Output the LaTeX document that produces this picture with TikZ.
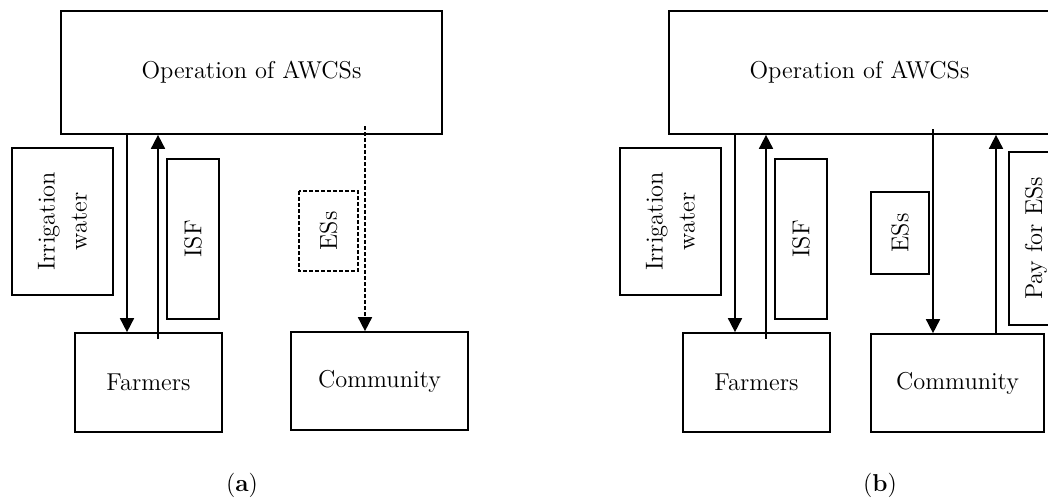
\documentclass[tikz,border=0pt]{standalone}
\usetikzlibrary{positioning}
\usetikzlibrary{arrows.meta}
\begin{document}
\begin{tikzpicture}[x=0.5pt, y=-0.5pt, line width=0.85pt,
    font=\fontsize{12.2}{16}\selectfont,
    box/.style={draw, inner sep=0pt},
    vbox/.style={box, rotate=90, align=center},
    dbox/.style={dash pattern=on 2pt off 1pt},
    flow/.style={-{Triangle[length=7pt,width=7pt]}}]
  \useasboundingbox (0,0) rectangle (1048,499);
  % parts shared by both panels
  \foreach \p/\o/\c/\cx in {A/0/a/242,B/608/b/880} {
    \begin{scope}[shift={(\o,0)}]
      \node[box, minimum width=190.5pt, minimum height=61.5pt] (op-\p) at (251.5,72.5) {Operation of AWCSs};
      \node[vbox, minimum width=73.5pt, minimum height=50.5pt] (irr-\p) at (62.5,221.5) {Irrigation\\water};
      \node[vbox, minimum width=80pt, minimum height=26pt] (isf-\p) at (193,239) {ISF};
      \node[box, minimum width=73.5pt, minimum height=49.5pt] (farm-\p) at (148.5,382.5) {Farmers};
      \coordinate (w-\p) at (127,0);
      \coordinate (f-\p) at (158,339);
    \end{scope}
    \draw[flow] (op-\p.south -| w-\p) -- (farm-\p.north -| w-\p);
    \draw[flow] (f-\p) -- (op-\p.south -| f-\p);
    \node (cap-\p) at (\cx,485) {(\textbf{\c})};
  }
  % panel (a)
  \node[vbox, dbox, minimum width=40pt, minimum height=29.5pt] (es-A) at (328.5,231) {ESs};
  \node[box, minimum width=88.5pt, minimum height=49pt] (com-A) at (379.5,381) {Community};
  \coordinate (e-A) at (365,126);
  \draw[flow, dbox] (e-A) -- (com-A.north -| e-A);
  % panel (b)
  \node[vbox, minimum width=41pt, minimum height=29pt] (es-B) at (900,233) {ESs};
  \node[box, minimum width=86.5pt, minimum height=49pt] (com-B) at (957.5,383) {Community};
  \node[vbox, minimum width=86.5pt, minimum height=27pt] (pay-B) at (1036,238.5) {Pay for ESs};
  \coordinate (e-B) at (933,129);
  \coordinate (p-B) at (996,0);
  \draw[flow] (e-B) -- (com-B.north -| e-B);
  \draw[flow] (com-B.north -| p-B) -- (op-B.south -| p-B);
\end{tikzpicture}
\end{document}
